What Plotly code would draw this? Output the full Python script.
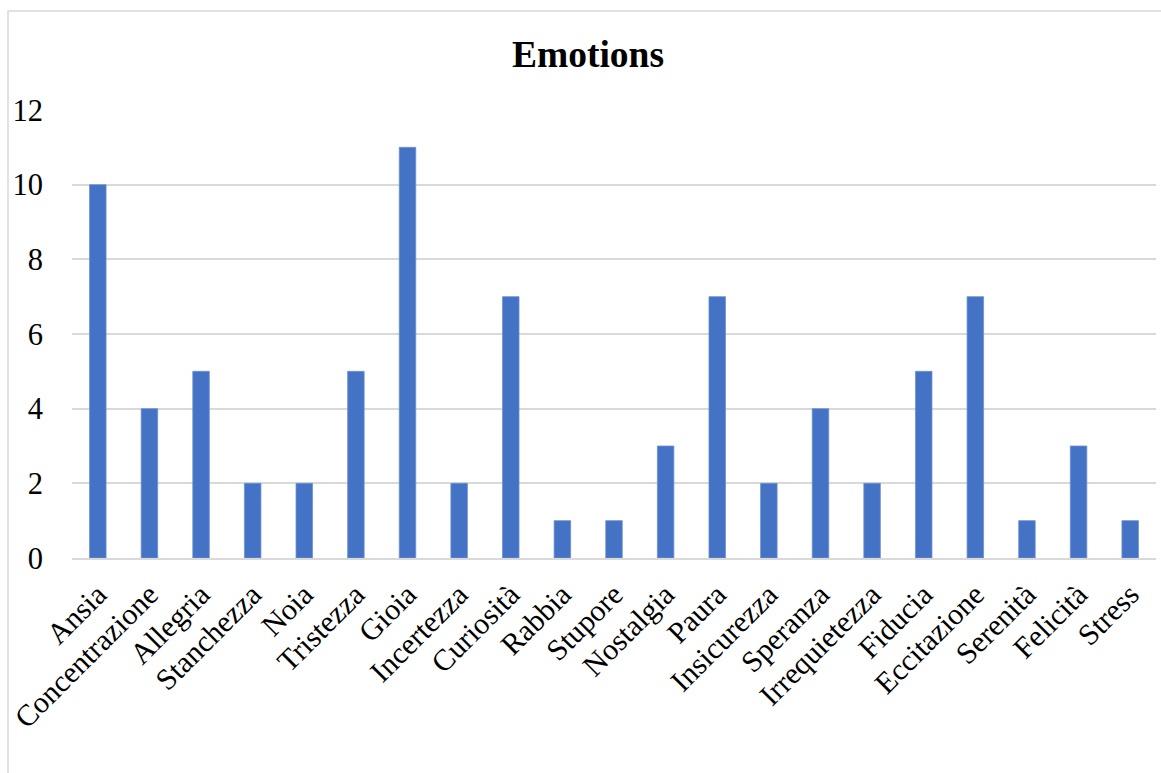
import plotly.graph_objects as go

emotions = ["Ansia", "Concentrazione", "Allegria", "Stanchezza", "Noia", "Tristezza",
            "Gioia", "Incertezza", "Curiosità", "Rabbia", "Stupore", "Nostalgia",
            "Paura", "Insicurezza", "Speranza", "Irrequietezza", "Fiducia",
            "Eccitazione", "Serenità", "Felicità", "Stress"]
counts = [10, 4, 5, 2, 2, 5, 11, 2, 7, 1, 1, 3, 7, 2, 4, 2, 5, 7, 1, 3, 1]
y_ticks = [0, 2, 4, 6, 8, 10, 12]

W, H = 1161, 773
L, R, T, B = 72, 5, 110, 215
pw, ph = W - L - R, H - T - B

FONT = "Liberation Serif, Times New Roman, serif"
GRID = "#d9d9d9"

fig = go.Figure(go.Bar(
    x=emotions, y=counts,
    marker=dict(color="#4472c4", line=dict(color="#6f8fd0", width=0.8)),
    width=0.32,
))

fig.update_layout(
    width=W, height=H,
    margin=dict(l=L, r=R, t=T, b=B),
    paper_bgcolor="white", plot_bgcolor="white",
    showlegend=False,
    font=dict(family=FONT, color="black"),
    title=dict(text="<b>Emotions</b>", x=588 / W, xanchor="center",
               y=1 - 54 / H, yanchor="middle",
               font=dict(family=FONT, size=37.5, color="black")),
    xaxis=dict(tickangle=-45, tickfont=dict(size=30), showgrid=False,
               showline=True, linecolor=GRID, linewidth=2,
               ticks="", ticklabelstandoff=5),
    yaxis=dict(range=[0, 12], tickvals=y_ticks, tickfont=dict(size=30.5),
               showgrid=True, gridcolor=GRID, gridwidth=1.5,
               zeroline=False, showline=False, ticks="",
               ticklabelstandoff=28),
    shapes=[dict(type="rect", xref="paper", yref="paper",
                 x0=(8 - L) / pw, x1=(W + 20 - L) / pw,
                 y0=-(H + 20 - T - ph) / ph, y1=1 + (T - 11) / ph,
                 line=dict(color=GRID, width=1.5), fillcolor="rgba(0,0,0,0)",
                 layer="below")],
)

fig.write_html("out.html")
